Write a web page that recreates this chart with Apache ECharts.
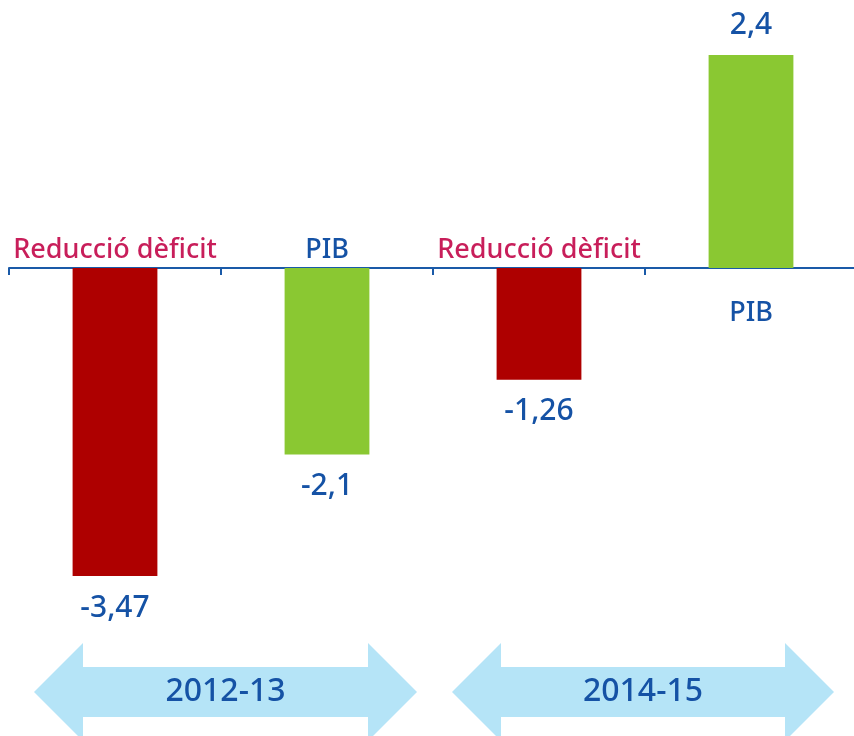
<!DOCTYPE html>
<html>
<head>
<meta charset="utf-8">
<script src="https://cdn.jsdelivr.net/npm/echarts@6/dist/echarts.min.js"></script>
<style>
  html, body { margin: 0; padding: 0; background: #fff; }
  #chart { width: 854px; height: 736px; }
</style>
</head>
<body>
<div id="chart"></div>
<script>
// data
const categories = ['Reducció dèficit', 'PIB', 'Reducció dèficit', 'PIB']
const values = [-3.47, -2.1, -1.26, 2.4]
const periods = ['2012-13', '2014-15']

const RED = '#ae0000'
const GREEN = '#8ac832'
const BLUE = '#1552a5'
const CRIMSON = '#c81e5a'
const FONT = 'Noto Sans'

const chart = echarts.init(document.getElementById('chart'))

// double-headed arrow shape under each period
function arrow(x0, x1, cy, text) {
  const head = 49
  const half = 25
  const wing = 49
  return {
    type: 'polygon',
    shape: {
      points: [
        [x0, cy], [x0 + head, cy - wing], [x0 + head, cy - half],
        [x1 - head, cy - half], [x1 - head, cy - wing], [x1, cy],
        [x1 - head, cy + wing], [x1 - head, cy + half],
        [x0 + head, cy + half], [x0 + head, cy + wing]
      ]
    },
    style: { fill: '#b5e4f7' },
    textContent: {
      style: { text: text, fill: BLUE, font: '500 32px "' + FONT + '"' }
    },
    textConfig: { position: 'inside' }
  }
}

chart.setOption({
  animation: false,
  grid: { left: 9, width: 848, top: 1.75, bottom: 113, outerBoundsMode: 'none' },
  xAxis: {
    type: 'category',
    data: categories,
    axisLine: { onZero: true, lineStyle: { color: '#1a5aa8', width: 2 } },
    axisTick: { show: true, length: 7, lineStyle: { color: '#1a5aa8', width: 2 } },
    axisLabel: { show: false }
  },
  yAxis: {
    type: 'value',
    min: -4,
    max: 3,
    show: false,
    splitLine: { show: false }
  },
  series: [{
    type: 'bar',
    barWidth: '40%',
    data: values.map((v, i) => ({
      value: v,
      itemStyle: { color: categories[i] === 'PIB' ? GREEN : RED },
      label: { position: v < 0 ? 'bottom' : 'top', distance: v < 0 ? 17 : 15 }
    })),
    label: {
      show: true,
      fontFamily: FONT,
      fontWeight: 500,
      fontSize: 30,
      color: BLUE,
      formatter: (p) => String(p.value).replace('.', ',')
    }
  }, {
    // zero-height bars that only carry the category name on the other side of the axis
    type: 'bar',
    barWidth: '40%',
    barGap: '-100%',
    silent: true,
    itemStyle: { color: 'transparent' },
    data: values.map((v, i) => ({
      value: 0,
      label: {
        position: v < 0 ? 'top' : 'bottom',
        distance: v < 0 ? 4 : 32,
        color: categories[i] === 'PIB' ? BLUE : CRIMSON
      }
    })),
    label: {
      show: true,
      fontFamily: FONT,
      fontWeight: 500,
      fontSize: 27,
      formatter: (p) => categories[p.dataIndex]
    }
  }],
  graphic: [
    arrow(34, 417, 692, periods[0]),
    arrow(452, 834, 692, periods[1])
  ]
})
</script>
</body>
</html>
